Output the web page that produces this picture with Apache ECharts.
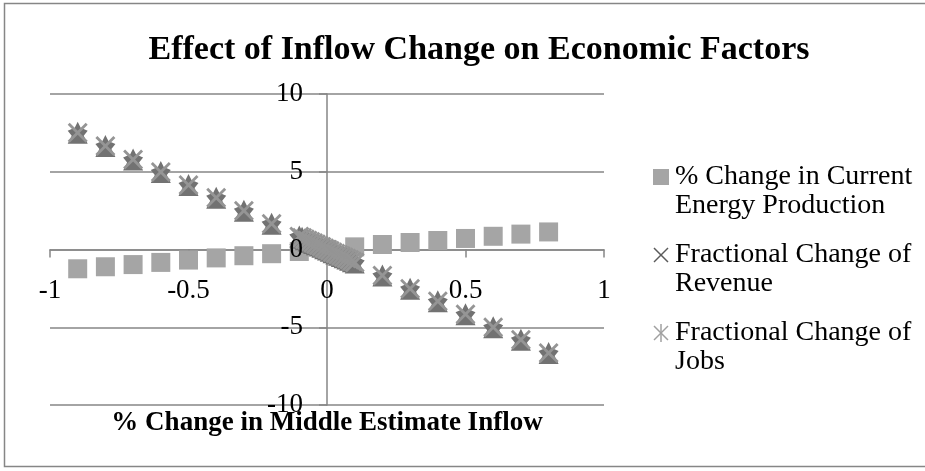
<!DOCTYPE html>
<html>
<head>
<meta charset="utf-8">
<script src="https://cdn.jsdelivr.net/npm/echarts@6/dist/echarts.min.js"></script>
<style>
html,body{margin:0;padding:0;background:#fff;}
#chart{width:925px;height:471px;}
</style>
</head>
<body>
<div id="chart"></div>
<script>
// ---- data ----
const chartTitle = 'Effect of Inflow Change on Economic Factors';
const xAxisTitle = '% Change in Middle Estimate Inflow';
const seriesNames = ['% Change in Current Energy Production', 'Fractional Change of Revenue', 'Fractional Change of Jobs'];

const xEnergy = [-0.9, -0.8, -0.7, -0.6, -0.5, -0.4, -0.3, -0.2, -0.1, 0, 0.1, 0.2, 0.3, 0.4, 0.5, 0.6, 0.7, 0.8];
const energyChange = [-1.24, -1.11, -0.97, -0.83, -0.68, -0.54, -0.40, -0.27, -0.13, 0, 0.17, 0.32, 0.45, 0.58, 0.71, 0.85, 0.99, 1.13];

const xFraction = [-0.9, -0.8, -0.7, -0.6, -0.5, -0.4, -0.3, -0.2,
  -0.1, -0.09, -0.08, -0.07, -0.06, -0.05, -0.04, -0.03, -0.02, -0.01, 0,
  0.01, 0.02, 0.03, 0.04, 0.05, 0.06, 0.07, 0.08, 0.09, 0.1,
  0.2, 0.3, 0.4, 0.5, 0.6, 0.7, 0.8];
const revenueChange = [7.51, 6.65, 5.79, 4.98, 4.14, 3.32, 2.50, 1.66,
  0.83, 0.75, 0.66, 0.58, 0.50, 0.41, 0.33, 0.25, 0.17, 0.08, 0,
  -0.08, -0.17, -0.25, -0.33, -0.41, -0.50, -0.58, -0.66, -0.75, -0.83,
  -1.67, -2.52, -3.33, -4.17, -5.00, -5.80, -6.65];
const jobsChange = [7.51, 6.65, 5.79, 4.98, 4.14, 3.32, 2.50, 1.66,
  0.83, 0.75, 0.66, 0.58, 0.50, 0.41, 0.33, 0.25, 0.17, 0.08, 0,
  -0.08, -0.17, -0.25, -0.33, -0.41, -0.50, -0.58, -0.66, -0.75, -0.83,
  -1.67, -2.52, -3.33, -4.17, -5.00, -5.80, -6.65];

// ---- chart ----
const serif = 'Liberation Serif';
const axisGray = '#868686';
const chart = echarts.init(document.getElementById('chart'), null, {renderer: 'canvas'});

const xPath = 'path://M0,2 L2,0 L10,8 L18,0 L20,2 L12,10 L20,18 L18,20 L10,12 L2,20 L0,18 L8,10 Z';
const blobPath = 'path://M10,0 L13,6 L20,9 L16,14 L20,22 L0,22 L4,14 L0,9 L7,6 Z';

// plot box (pixels) and where the axes cross (value 0)
const gridLeft = 50, gridRight = 321, gridTop = 94, gridBottom = 66;
const plotW = 925 - gridLeft - gridRight, plotH = 471 - gridTop - gridBottom;
const xShift = plotW / 2;   // y axis sits at x = 0 (middle of -1..1)
const yShift = plotH / 2;   // x axis sits at y = 0 (middle of -10..10)

const legendX = 653, legendText = 675;
const legendItems = [
  {lines: ['% Change in Current', 'Energy Production'], y: 177},
  {lines: ['Fractional Change of', 'Revenue'], y: 255},
  {lines: ['Fractional Change of', 'Jobs'], y: 333}
];
const lineStep = 29;
const graphics = [
  {type: 'rect', shape: {x: 4.5, y: 3.5, width: 940, height: 463}, style: {fill: 'none', stroke: axisGray, lineWidth: 1.5}, silent: true},
  {type: 'rect', shape: {x: legendX, y: legendItems[0].y - 8, width: 16, height: 16}, style: {fill: '#a5a5a5'}},
  {type: 'polyline', shape: {points: [[legendX + 1, legendItems[1].y - 7], [legendX + 15, legendItems[1].y + 7]]}, style: {stroke: '#5a5a5a', lineWidth: 1.5}},
  {type: 'polyline', shape: {points: [[legendX + 1, legendItems[1].y + 7], [legendX + 15, legendItems[1].y - 7]]}, style: {stroke: '#5a5a5a', lineWidth: 1.5}},
  {type: 'polyline', shape: {points: [[legendX + 1, legendItems[2].y - 7], [legendX + 15, legendItems[2].y + 7]]}, style: {stroke: '#a0a0a0', lineWidth: 1.5}},
  {type: 'polyline', shape: {points: [[legendX + 1, legendItems[2].y + 7], [legendX + 15, legendItems[2].y - 7]]}, style: {stroke: '#a0a0a0', lineWidth: 1.5}},
  {type: 'polyline', shape: {points: [[legendX + 8, legendItems[2].y - 9], [legendX + 8, legendItems[2].y + 9]]}, style: {stroke: '#a0a0a0', lineWidth: 1.5}}
];
legendItems.forEach(it => {
  it.lines.forEach((t, k) => {
    graphics.push({type: 'text', x: legendText, y: it.y + k * lineStep,
      style: {text: t, font: '28px "' + serif + '"', fill: '#000', textVerticalAlign: 'middle', verticalAlign: 'middle'}});
  });
});

const yScale = {type: 'value', min: -10, max: 10, interval: 5, position: 'left', offset: -xShift};
const tickLabelStyle = {fontFamily: serif, fontSize: 27, color: '#000'};

const option = {
  animation: false,
  backgroundColor: '#fff',
  title: {
    text: chartTitle, left: 474, textAlign: 'center', top: 28,
    textStyle: {fontFamily: serif, fontWeight: 'bold', fontSize: 34, color: '#000'}
  },
  grid: {left: gridLeft, right: gridRight, top: gridTop, bottom: gridBottom, containLabel: false, outerBoundsMode: 'none'},
  xAxis: {
    type: 'value', min: -1, max: 1, interval: 0.5,
    position: 'bottom', offset: -yShift,
    name: xAxisTitle, nameLocation: 'middle', nameGap: 160,
    nameTextStyle: {fontFamily: serif, fontWeight: 'bold', fontSize: 27, color: '#000'},
    axisLine: {onZero: false, lineStyle: {color: axisGray, width: 1.5}},
    axisTick: {show: true, length: 8, inside: false, lineStyle: {color: axisGray, width: 1.5}},
    axisLabel: Object.assign({margin: 28}, tickLabelStyle),
    splitLine: {show: false}
  },
  yAxis: [
    Object.assign({}, yScale, {
      z: 0,
      axisLine: {show: true, onZero: false, lineStyle: {color: axisGray, width: 1.5}},
      axisTick: {show: true, length: 8, inside: false, lineStyle: {color: axisGray, width: 1.5}},
      axisLabel: {show: false},
      splitLine: {show: true, lineStyle: {color: axisGray, width: 1.5}}
    }),
    Object.assign({}, yScale, {
      z: 10,
      axisLine: {show: false, onZero: false},
      axisTick: {show: false},
      axisLabel: Object.assign({margin: 24}, tickLabelStyle),
      splitLine: {show: false}
    })
  ],
  series: [
    {
      name: seriesNames[0], type: 'scatter', z: 2, yAxisIndex: 0,
      symbol: 'rect', symbolSize: 19,
      itemStyle: {color: '#a5a5a5', opacity: 1},
      data: xEnergy.map((x, i) => [x, energyChange[i]])
    },
    {
      name: seriesNames[2], type: 'scatter', z: 3, yAxisIndex: 0,
      symbol: blobPath, symbolSize: [20, 22],
      itemStyle: {color: '#727272', opacity: 1},
      data: xFraction.map((x, i) => [x, jobsChange[i]])
    },
    {
      name: seriesNames[1], type: 'scatter', z: 4, yAxisIndex: 0,
      symbol: xPath, symbolSize: 20,
      itemStyle: {color: '#959595', opacity: 1},
      data: xFraction.map((x, i) => [x, revenueChange[i]])
    }
  ],
  graphic: graphics
};
chart.setOption(option);
</script>
</body>
</html>
